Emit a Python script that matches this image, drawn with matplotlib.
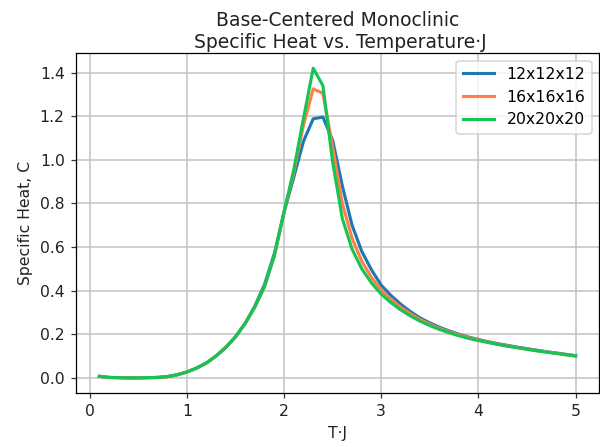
import matplotlib
matplotlib.use('Agg')
import matplotlib.pyplot as plt

# temperatures (units of J)
temps = [0.1, 0.2, 0.3, 0.4, 0.5, 0.6, 0.7, 0.8, 0.9, 1.0,
         1.1, 1.2, 1.3, 1.4, 1.5, 1.6, 1.7, 1.8, 1.9, 2.0,
         2.1, 2.2, 2.3, 2.4, 2.5, 2.6, 2.7, 2.8, 2.9, 3.0,
         3.1, 3.2, 3.3, 3.4, 3.5, 3.6, 3.7, 3.8, 3.9, 4.0,
         4.1, 4.2, 4.3, 4.4, 4.5, 4.6, 4.7, 4.8, 4.9, 5.0]

# specific heat for each lattice size
c_12 = [0.007, 0.002, 0.001, 0.000, 0.000, 0.001, 0.002, 0.006, 0.014, 0.027,
        0.045, 0.068, 0.100, 0.140, 0.188, 0.250, 0.330, 0.430, 0.570, 0.760,
        0.920, 1.085, 1.188, 1.196, 1.090, 0.880, 0.700, 0.580, 0.495, 0.425,
        0.378, 0.338, 0.304, 0.275, 0.252, 0.232, 0.215, 0.200, 0.187, 0.176,
        0.166, 0.157, 0.149, 0.141, 0.134, 0.127, 0.120, 0.114, 0.108, 0.102]

c_16 = [0.007, 0.002, 0.001, 0.000, 0.000, 0.001, 0.002, 0.006, 0.014, 0.027,
        0.045, 0.068, 0.100, 0.140, 0.188, 0.250, 0.325, 0.420, 0.560, 0.760,
        0.940, 1.160, 1.325, 1.305, 1.060, 0.800, 0.640, 0.535, 0.460, 0.403,
        0.360, 0.324, 0.294, 0.268, 0.246, 0.227, 0.211, 0.197, 0.185, 0.174,
        0.164, 0.155, 0.147, 0.139, 0.132, 0.125, 0.119, 0.113, 0.107, 0.101]

c_20 = [0.007, 0.002, 0.001, 0.000, 0.000, 0.001, 0.002, 0.006, 0.014, 0.027,
        0.045, 0.068, 0.100, 0.140, 0.188, 0.250, 0.325, 0.420, 0.560, 0.760,
        0.955, 1.190, 1.420, 1.340, 0.990, 0.730, 0.590, 0.500, 0.435, 0.384,
        0.345, 0.312, 0.284, 0.260, 0.240, 0.222, 0.207, 0.193, 0.181, 0.171,
        0.162, 0.153, 0.145, 0.138, 0.131, 0.124, 0.118, 0.112, 0.106, 0.100]

labels = ['12x12x12', '16x16x16', '20x20x20']
colors = ['#1f77b4', '#ff7f45', '#15c454']

fig = plt.figure(figsize=(600 / 112.5, 447 / 112.5), dpi=112.5)
ax = fig.add_axes([0.126, 0.12, 0.873, 0.762])

for series, lab, col in zip([c_12, c_16, c_20], labels, colors):
    ax.plot(temps, series, color=col, linewidth=2, label=lab)

ax.grid(True, color='#c4c4c4', linewidth=1.0)
ax.set_axisbelow(True)
ax.tick_params(colors='#333333', labelcolor='#222222')
ax.set_xlabel('T\u00b7J', color='#222222')
ax.set_ylabel('Specific Heat, C', color='#222222')
ax.set_title('Base-Centered Monoclinic\n Specific Heat vs. Temperature\u00b7J',
             pad=3, color='#222222')
ax.legend(loc='upper right')

fig.savefig('out.png', dpi=112.5)
